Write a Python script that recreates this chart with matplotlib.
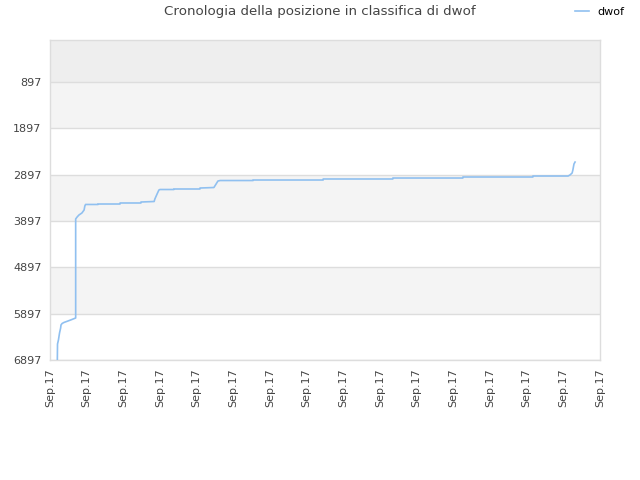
import matplotlib
matplotlib.use("Agg")
import matplotlib.pyplot as plt

title = "Cronologia della posizione in classifica di dwof"
series_name = "dwof"

# time (arbitrary units across the axis) and rank
t = [2.0, 2.05, 2.3, 2.6, 2.9, 3.0, 3.3, 3.8, 4.9, 6.0, 7.0,
     7.0, 7.4, 7.9, 8.7, 9.3, 9.5, 9.7, 13.1, 13.1, 19.1, 19.1, 24.8, 24.8, 28.4,
     28.6, 29.2, 29.7, 30.0, 33.8, 33.8, 40.9, 40.9, 44.7,
     45.3, 45.8, 46.4, 55.4, 55.4, 74.5, 74.5, 93.5, 93.5, 112.6, 112.6,
     131.7, 131.7, 141.3, 141.8, 142.4, 142.6, 142.9, 143.2]
rank = [6897, 6552, 6465, 6314, 6206, 6141, 6109, 6087, 6055, 6022, 5990,
        3853, 3810, 3767, 3724, 3659, 3573, 3540, 3540, 3530, 3530, 3508, 3508, 3487, 3476,
        3422, 3314, 3228, 3217, 3217, 3206, 3206, 3185, 3174,
        3098, 3034, 3023, 3023, 3012, 3012, 2990, 2990, 2969, 2969, 2947,
        2947, 2926, 2926, 2904, 2861, 2796, 2667, 2624]

y_ticks = [897, 1897, 2897, 3897, 4897, 5897, 6897]
x_ticks = list(range(0, 151, 10))
x_labels = ["Sep.17"] * len(x_ticks)
bands = [(-10, 897, "#eeeeee"), (897, 1897, "#f4f4f4"), (1897, 2897, "#ffffff"),
         (2897, 3897, "#f4f4f4"), (3897, 4897, "#ffffff"), (4897, 5897, "#f4f4f4"),
         (5897, 6897, "#ffffff")]

fig = plt.figure(figsize=(6.4, 4.8), dpi=100)
ax = fig.add_axes([50/640, 1-360/480, 550/640, 320/480])

for lo, hi, c in bands:
    ax.axhspan(lo, hi, color=c, zorder=0, lw=0)
for yt in y_ticks:
    ax.axhline(yt, color="#dddddd", lw=1, zorder=1)

line, = ax.plot(t, rank, color="#90c0f0", lw=1.2, label=series_name, zorder=3)

ax.set_xlim(0, 150)
ax.set_ylim(6897, -10)
ax.set_yticks(y_ticks)
ax.set_yticklabels([str(v) for v in y_ticks], fontsize=8, color="#444444")
ax.set_xticks(x_ticks)
ax.set_xticklabels(x_labels, rotation=90, fontsize=8, color="#444444")
ax.tick_params(length=0, pad=6)
for s in ax.spines.values():
    s.set_color("#dddddd")
    s.set_linewidth(1)

fig.text(0.5, 1-12/480, title, ha="center", va="center", fontsize=9.6, color="#444444")
fig.legend(handles=[line], labels=[series_name], loc="center",
           bbox_to_anchor=(600/640, 1-12/480), frameon=False, fontsize=8,
           handlelength=1.2, handletextpad=0.8)

fig.savefig("out.png", dpi=100)
